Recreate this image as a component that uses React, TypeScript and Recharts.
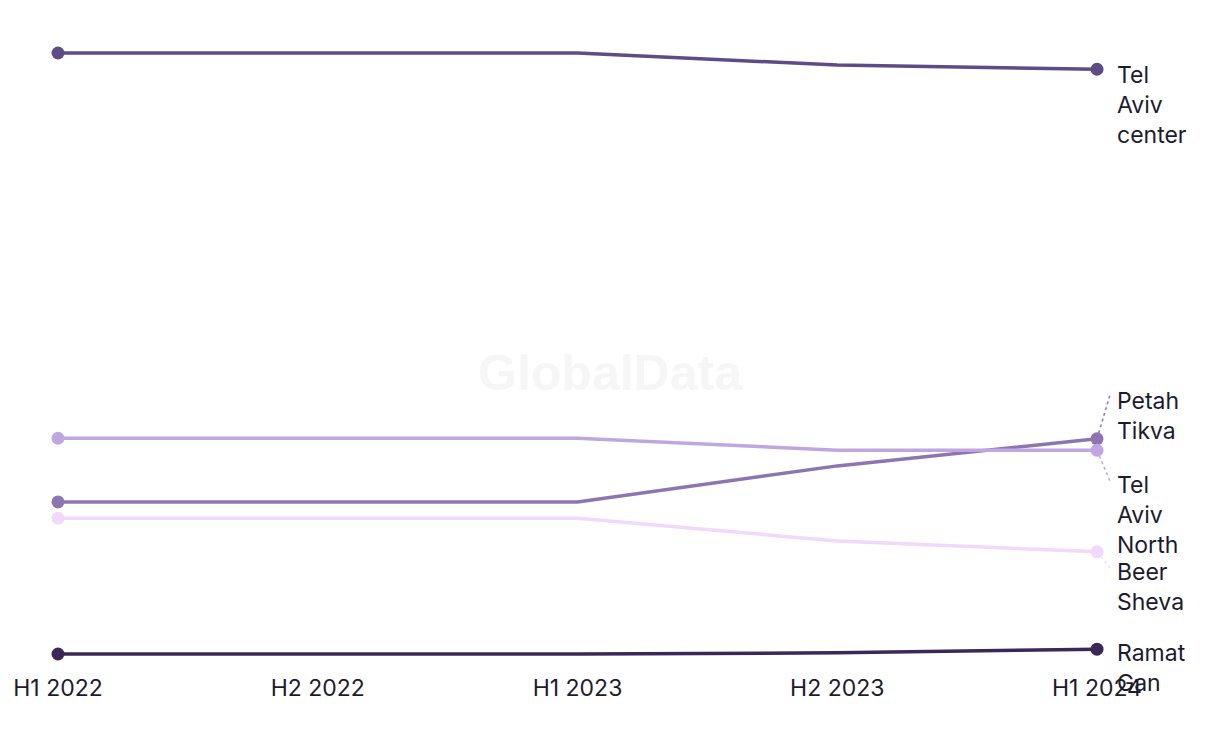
import { LineChart, Line, XAxis, YAxis, LabelList } from 'recharts'

// Half-year periods on the x axis
const periods = ['H1 2022', 'H2 2022', 'H1 2023', 'H2 2023', 'H1 2024']

// Index values per district (arbitrary scale 0–100)
const telAvivCenter = [100, 100, 100, 98.0, 97.3]
const petahTikva = [25.3, 25.3, 25.3, 31.3, 35.8]
const telAvivNorth = [35.9, 35.9, 35.9, 33.9, 33.9]
const beerSheva = [22.6, 22.6, 22.6, 18.8, 17.0]
const ramatGan = [0, 0, 0, 0.2, 0.8]

const data = periods.map((p, i) => ({
  period: p,
  tac: telAvivCenter[i],
  pt: petahTikva[i],
  tan: telAvivNorth[i],
  bs: beerSheva[i],
  rg: ramatGan[i],
}))

interface SeriesDef {
  key: string
  name: string[]
  color: string
  // vertical nudge of the end label, so labels don't collide
  labelShift: number
}

const SERIES: SeriesDef[] = [
  { key: 'rg', name: ['Ramat', 'Gan'], color: '#3b2858', labelShift: 4 },
  { key: 'bs', name: ['Beer', 'Sheva'], color: '#f0d9fb', labelShift: 20 },
  { key: 'pt', name: ['Petah', 'Tikva'], color: '#8e75b0', labelShift: -38 },
  { key: 'tan', name: ['Tel', 'Aviv', 'North'], color: '#c0a6e1', labelShift: 35 },
  { key: 'tac', name: ['Tel', 'Aviv', 'center'], color: '#5f4b87', labelShift: 6 },
]

const FONT = 'Inter, "Noto Sans", sans-serif'
const TEXT = '#1c1b2e'
const LAST = periods.length - 1

function endDot(color: string) {
  return (props: any) => {
    const { cx, cy, index } = props
    if (index !== 0 && index !== LAST) return <g key={index} />
    return <circle key={index} cx={cx} cy={cy} r={6.5} fill={color} />
  }
}

function endLabel(s: SeriesDef) {
  return (props: any) => {
    const { x, y, index } = props
    if (index !== LAST) return null
    const lx = x + 20
    const firstY = y + s.labelShift
    const needsLeader = Math.abs(s.labelShift) > 10
    return (
      <g>
        {needsLeader && (
          <line
            x1={x}
            y1={y}
            x2={x + 13}
            y2={s.labelShift < 0 ? firstY - 6 : firstY - 4}
            stroke={s.color}
            strokeWidth={1.5}
            strokeDasharray="3 3"
          />
        )}
        <text x={lx} y={firstY} fill={TEXT} fontSize={23} fontFamily={FONT} dominantBaseline="central">
          {s.name.map((w, i) => (
            <tspan key={w + i} x={lx} dy={i === 0 ? 0 : 30}>
              {w}
            </tspan>
          ))}
        </text>
      </g>
    )
  }
}

export default function App() {
  return (
    <div style={{ position: 'relative', width: 1212, height: 736, fontFamily: FONT }}>
      <div
        style={{
          position: 'absolute',
          left: 0,
          width: 1204,
          top: 336,
          textAlign: 'center',
          fontSize: 50,
          fontWeight: 700,
          color: '#f6f6f6',
          fontFamily: 'Arial, "Liberation Sans", sans-serif',
        }}
      >
        GlobalData
      </div>
      <LineChart
        width={1212}
        height={736}
        data={data}
        margin={{ top: 45, right: 123, bottom: 60, left: 50 }}
        style={{ position: 'absolute', left: 0, top: 0 }}
      >
        <XAxis
          dataKey="period"
          axisLine={false}
          tickLine={false}
          interval={0}
          tickMargin={20}
          height={30}
          padding={{ left: 0, right: 0 }}
          tick={{ fill: TEXT, fontSize: 23, fontFamily: FONT }}
        />
        <YAxis hide domain={[0, 100]} />
        {SERIES.map((s) => (
          <Line
            key={s.key}
            type="linear"
            dataKey={s.key}
            stroke={s.color}
            strokeWidth={3.5}
            dot={endDot(s.color)}
            activeDot={false}
            isAnimationActive={false}
          >
            <LabelList dataKey={s.key} content={endLabel(s)} />
          </Line>
        ))}
      </LineChart>
    </div>
  )
}
